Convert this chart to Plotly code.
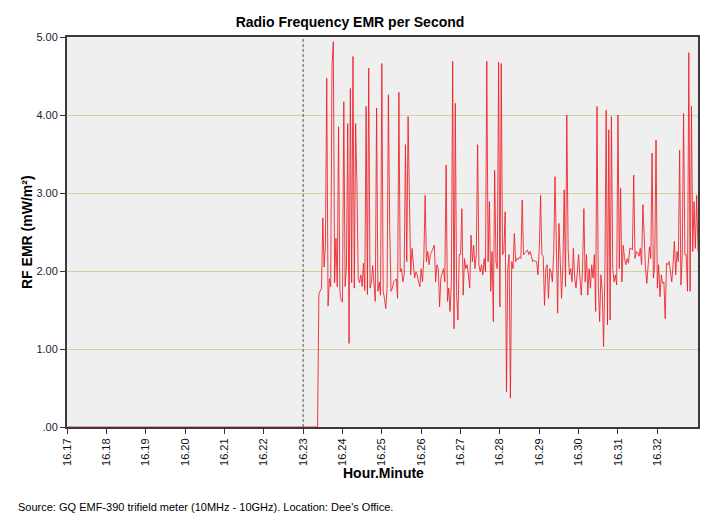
import plotly.graph_objects as go

# ---- data (readings every 2 seconds, starting 16:17:00) ----
sample_step_s = 2
start_minute = 17  # 16.17

lead_zeros = [0.0] * 192  # meter not yet reading (16:17:00 - 16:23:22)

seg_a = [1.71, 1.75, 1.78, 2.68, 2.05, 2.33, 4.47, 1.55, 1.90, 1.80, 4.62, 4.94, 1.85, 2.42, 1.80,
         3.85, 1.75, 1.62, 1.60, 4.17, 1.80, 2.05, 3.89, 1.07, 4.34, 1.85, 4.75, 1.78, 3.89, 3.12,
         1.90, 1.85, 1.95, 1.80, 2.10, 1.75, 4.11, 1.70, 4.60, 1.78, 1.85, 2.07, 1.75]
seg_b = [1.61, 4.09, 1.74, 1.86, 1.69, 4.66, 1.74, 1.65, 1.52, 1.78, 4.26, 2.53, 1.74, 1.78, 1.86,
         1.88, 1.90, 1.65, 4.29, 1.99, 2.03, 1.86, 1.95, 3.62, 2.12, 3.98, 2.97, 1.95, 2.29, 2.12,
         1.91, 1.99, 1.95, 1.86, 1.80, 2.03, 1.86, 2.16, 2.97, 2.12, 2.25, 2.08, 2.21, 2.25, 2.29,
         2.33, 1.86, 2.08, 2.03, 1.54]
seg_c = [1.91, 1.99, 2.03, 1.86, 3.36, 1.61, 1.78, 1.48, 1.86, 4.69, 1.26, 4.15, 1.69, 1.37, 2.21,
         2.21, 2.80, 1.69, 2.16, 2.03, 2.08, 1.95, 1.78, 2.46, 2.12, 2.33, 2.03, 2.21, 3.62, 2.08,
         1.99, 2.08, 1.95, 2.16, 1.99, 4.69, 2.12, 2.89, 1.74, 2.25, 1.35, 3.29, 2.12, 2.03, 4.68,
         1.54, 4.66, 2.21, 2.25, 2.76]
seg_d = [0.45, 2.03, 2.21, 0.37, 2.12, 2.03, 2.48, 2.12, 2.16, 2.15, 2.18, 2.16, 2.91, 2.21, 2.23,
         2.25, 2.27, 2.21, 2.25, 2.19, 2.12, 2.14, 2.12, 2.12, 1.95, 2.29, 2.97, 2.21, 2.19, 1.56,
         2.03, 2.08, 1.65, 2.03, 1.99, 1.86, 2.23, 3.21, 2.03, 1.46, 2.61, 2.08, 1.65, 2.08, 3.04,
         1.80, 4.00, 2.29, 1.95]
seg_e = [2.03, 1.86, 2.29, 1.91, 1.78, 2.08, 2.21, 1.91, 1.69, 2.03, 2.80, 1.86, 2.21, 1.69, 2.03,
         1.78, 2.08, 1.91, 2.21, 1.48, 4.11, 1.82, 1.35, 1.95, 1.74, 1.03, 1.95, 4.06, 1.31, 3.81,
         1.37, 3.98, 2.03, 1.86, 1.95, 1.82, 4.00, 2.03, 3.06, 1.86, 2.33, 2.16, 2.08, 2.16, 2.10,
         2.29, 2.29, 2.27, 3.23, 2.16]
seg_f = [2.25, 2.23, 2.19, 2.29, 2.08, 2.85, 2.29, 2.03, 1.84, 2.12, 2.31, 2.16, 3.51, 1.91, 2.08,
         3.68, 1.78, 2.08, 1.67, 1.95, 1.84, 1.86, 1.39, 2.10, 2.08, 2.12, 1.95, 1.86, 2.08, 2.38,
         1.95, 2.25, 2.12, 3.55, 1.82, 2.21, 4.02, 2.21, 2.21, 1.74, 4.80, 1.74, 4.11, 2.25, 2.89,
         2.29, 2.97, 2.25]

rf_values = lead_zeros + seg_a + seg_b + seg_c + seg_d + seg_e + seg_f
time_minutes = [start_minute + i * sample_step_s / 60 for i in range(len(rf_values))]

x_tick_vals = list(range(17, 33))
x_tick_text = ["16.%02d" % m for m in x_tick_vals]
y_tick_vals = [0, 1, 2, 3, 4, 5]
y_tick_text = [".00", "1.00", "2.00", "3.00", "4.00", "5.00"]
marker_minute = 23  # dashed reference line at 16.23

title_text = "Radio Frequency EMR per Second"
y_title = "RF EMR (mW/m²)"
x_title = "Hour.Minute"
source_text = "Source: GQ EMF-390 trifield meter (10MHz - 10GHz). Location: Dee's Office."

# ---- figure (page body has an 8px margin, so the figure is offset by 8px) ----
OFF = 8
W, H = 708 - 2 * OFF, 529 - 2 * OFF
ML, MT = 67 - OFF, 37 - OFF
PW, PH = 631, 390
MR = W - ML - PW
MB = H - MT - PH
FONT = "Arial, Liberation Sans, sans-serif"


def px_x(page_x):
    return (page_x - OFF - ML) / PW


def px_y(page_y):
    return (MT + PH - (page_y - OFF)) / PH


fig = go.Figure()
fig.add_trace(go.Scatter(
    x=time_minutes, y=rf_values, mode="lines",
    line=dict(color="rgba(238,28,36,0.85)", width=1),
    hoverinfo="skip", showlegend=False,
))

fig.add_shape(type="line", xref="x", yref="paper", x0=marker_minute, x1=marker_minute,
              y0=0, y1=1, line=dict(color="#555555", width=1, dash="3px,2px"), layer="above")

fig.update_layout(
    width=W, height=H,
    margin=dict(l=ML, r=MR, t=MT, b=MB, autoexpand=False),
    paper_bgcolor="white", plot_bgcolor="#efefef",
    font=dict(family=FONT, color="#000000", size=11),
    title=dict(text="<b>%s</b>" % title_text, x=(350 - OFF) / W, xref="container", xanchor="center",
               y=1 - (22 - OFF) / H, yref="container", yanchor="middle",
               font=dict(size=14, family=FONT, color="#000000")),
    xaxis=dict(range=[start_minute, time_minutes[-1]], tickvals=x_tick_vals, ticktext=x_tick_text,
               tickangle=-90, ticks="outside", ticklen=5, tickcolor="#333333",
               tickfont=dict(size=11, color="#111111"), automargin=False,
               showgrid=False, zeroline=False, showline=True, linecolor="#3a3a3a",
               linewidth=2, mirror=True),
    yaxis=dict(range=[0, 5], tickvals=y_tick_vals, ticktext=y_tick_text,
               ticks="outside", ticklen=5, tickcolor="#333333",
               tickfont=dict(size=11, color="#1a1a3a"), automargin=False,
               showgrid=True, gridcolor="#d5cfa6", gridwidth=1, zeroline=False,
               showline=True, linecolor="#3a3a3a", linewidth=2, mirror=True),
    annotations=[
        dict(text="<b>%s</b>" % x_title, xref="paper", yref="paper",
             x=px_x(383), y=px_y(473), xanchor="center", yanchor="middle",
             showarrow=False, font=dict(size=14, family=FONT)),
        dict(text="<b>%s</b>" % y_title, xref="paper", yref="paper",
             x=px_x(27), y=0.5, xanchor="center", yanchor="middle", textangle=-90,
             showarrow=False, font=dict(size=14, family=FONT)),
        dict(text=source_text, xref="paper", yref="paper",
             x=px_x(16), y=px_y(507), xanchor="left", yanchor="middle",
             showarrow=False, font=dict(size=11, family=FONT)),
    ],
)

fig.write_html("out.html")
